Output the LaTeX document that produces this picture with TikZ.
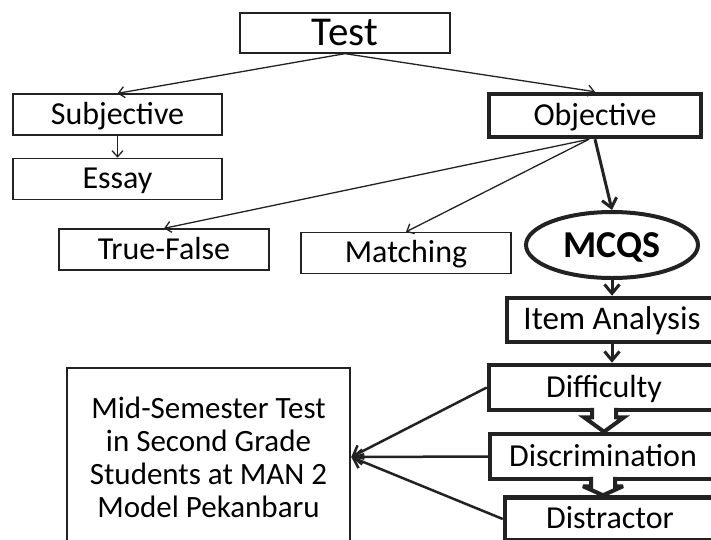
\documentclass[tikz,border=0pt]{standalone}
\usepackage{fontspec}
\setmainfont{Carlito}
\usetikzlibrary{positioning}
\usetikzlibrary{shapes.geometric}
\usetikzlibrary{arrows.meta}
\usetikzlibrary{calc}
\definecolor{ink}{HTML}{222222}
\tikzset{
  % A plain box for the kinds of test
  leaf/.style={
    draw=ink, line width=1.3pt, fill=white, rectangle, align=center,
    font=\fontsize{32}{34}\selectfont, inner sep=0pt, minimum height=41pt,
    text height=25pt, text depth=6pt, minimum width=#1},
  % A box on the MCQS path (heavy border)
  stage/.style={leaf=#1, line width=4.5pt, minimum height=44pt},
  % The MCQS ellipse
  choice/.style={
    draw=ink, ellipse, line width=4pt, fill=white, inner sep=0pt,
    minimum width=172pt, minimum height=66pt, text height=24pt, text depth=0pt,
    font=\fontsize{38}{40}\selectfont\bfseries},
  % The study box
  target/.style={
    draw=ink, line width=2.5pt, fill=white, align=center,
    font=\fontsize{31}{33}\selectfont, inner sep=0pt,
    minimum width=283pt, minimum height=178pt},
  % Connectors
  thin/.style={-{Straight Barb[length=6pt, width=11pt]}, draw=ink, line width=1.3pt},
  heavy/.style={-{Straight Barb[length=9pt, width=15pt]}, draw=ink, line width=3pt},
  feed/.style={-{Straight Barb[length=9pt, width=15pt]}, draw=ink, line width=2.5pt},
  fatarrow/.style={draw=ink, line width=4pt, miter limit=4},
}

\begin{document}
\begin{tikzpicture}[x=1pt, y=-1pt]
  \useasboundingbox (0,0) rectangle (711,539);
  \clip (0,0) rectangle (711,539);

  % --- Kinds of test ---------------------------------------------------
  \node[leaf=210pt, minimum height=40pt, text height=30pt, text depth=6pt,
        font=\fontsize{41}{43}\selectfont] (test) at (345,33) {Test};

  \node[leaf=209pt] (subj)  at (117.5,114.5) {Subjective};
  \node[leaf=209pt, below=22pt of subj] (essay) {Essay};
  \node[stage=212pt, minimum height=43pt] (obj) at (595,115.5) {Objective};

  \node[leaf=210pt] (tf)    at (164,249.5) {True-False};
  \node[leaf=210pt] (match) at (406,253)   {Matching};
  \node[choice]     (mcqs)  at (612,245)   {MCQS};

  % --- Item analysis ---------------------------------------------------
  \node[stage=210pt, font=\fontsize{33}{35}\selectfont] (item) at (612,320) {Item Analysis};
  \node[stage=230pt, minimum height=45pt] (diff) at (604,387.5) {Difficulty};
  \node[stage=226pt, minimum height=45pt] (disc) at (603,456.5) {Discrimination};
  \node[stage=210pt, minimum height=43pt] (dist) at (610,519)   {Distractor};

  \node[target] (mid) at (208.5,457)
       {Mid-Semester Test\\in Second Grade\\Students at MAN 2\\Model Pekanbaru};

  % --- Connectors ------------------------------------------------------
  \draw[thin] (test.south) -- (subj.north);
  \draw[thin] (test.south) -- (obj.north);
  \draw[thin] (subj.south) -- (essay.north);
  \draw[thin] ($(obj.south)+(-6,0)$) -- (tf.north);
  \draw[thin] ($(obj.south)+(-6,0)$) -- (match.north);
  \draw[heavy] (obj.south) -- (mcqs.north);
  \draw[heavy] (mcqs.south) -- (item.north);
  \draw[heavy] (item.south) -- (item.south |- diff.north);

  % block arrows between the analysis steps
  \fill[white] ($(diff.south)+(-12,-6)$) -- ($(diff.south)+(-12,5)$) -- ($(diff.south)+(-20,5)$)
    -- (diff.south |- disc.north) -- ($(diff.south)+(20,5)$) -- ($(diff.south)+(12,5)$)
    -- ($(diff.south)+(12,-6)$) -- cycle;
  \draw[fatarrow] ($(diff.south)+(-12,-4.5)$) -- ($(diff.south)+(-12,5)$) -- ($(diff.south)+(-20,5)$)
    -- (diff.south |- disc.north) -- ($(diff.south)+(20,5)$) -- ($(diff.south)+(12,5)$)
    -- ($(diff.south)+(12,-4.5)$);

  \fill[white] ($(disc.south)+(-12,-6)$) -- ($(disc.south)+(-12,5)$) -- ($(disc.south)+(-20,5)$)
    -- (disc.south |- dist.north) -- ($(disc.south)+(20,5)$) -- ($(disc.south)+(12,5)$)
    -- ($(disc.south)+(12,-6)$) -- cycle;
  \draw[fatarrow] ($(disc.south)+(-12,-4.5)$) -- ($(disc.south)+(-12,5)$) -- ($(disc.south)+(-20,5)$)
    -- (disc.south |- dist.north) -- ($(disc.south)+(20,5)$) -- ($(disc.south)+(12,5)$)
    -- ($(disc.south)+(12,-4.5)$);

  \draw[feed] (diff.west) -- (mid.east);
  \draw[feed] (disc.west) -- (mid.east);
  \draw[feed] (dist.west) -- (mid.east);

\end{tikzpicture}
\end{document}
